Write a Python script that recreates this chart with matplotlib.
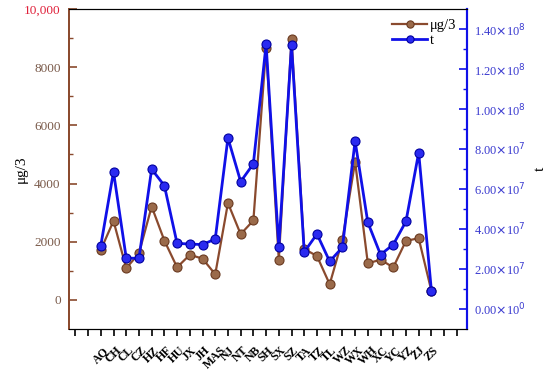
import matplotlib
matplotlib.use("Agg")
import math
import matplotlib.pyplot as plt
from matplotlib.ticker import FixedLocator, FuncFormatter

cities = ["AQ", "CH", "CL", "CZ", "HZ", "HF", "HU", "JX", "JH", "MAS", "NJ", "NT", "NB",
          "SH", "SX", "SZ", "TA", "TZ", "TL", "WZ", "WX", "WH", "XC", "YC", "YZ", "ZJ", "ZS"]
ug3 = [1720, 2715, 1090, 1600, 3210, 2040, 1120, 1550, 1420, 880, 3330, 2260, 2730,
       8650, 1380, 8970, 1750, 1510, 540, 2060, 4750, 1260, 1380, 1120, 2030, 2120, 310]
t_vals = [3.17e7, 6.86e7, 2.55e7, 2.53e7, 6.99e7, 6.17e7, 3.28e7, 3.25e7, 3.22e7, 3.50e7,
          8.55e7, 6.37e7, 7.26e7, 1.323e8, 3.10e7, 1.319e8, 2.85e7, 3.75e7, 2.38e7, 3.08e7,
          8.40e7, 4.33e7, 2.72e7, 3.22e7, 4.38e7, 7.82e7, 0.92e7]

plt.rcParams['font.family'] = ['Liberation Serif', 'DejaVu Serif']
brown = '#8a4a2e'
blue = '#1010e8'

fig = plt.figure(figsize=(5.5, 3.7), dpi=100)
ax = fig.add_axes([69/550, 1-329/370, (467-69)/550, (329-9)/370])
ax2 = ax.twinx()

x = list(range(len(cities)))
l1, = ax.plot(x, ug3, color=brown, lw=1.6, marker='o', ms=6.5, mfc='#9a6a4a', mec='#6a3a20', mew=0.8, label='μg/3', zorder=3)
l2, = ax2.plot(x, t_vals, color=blue, lw=2.0, marker='o', ms=6.5, mfc='#2a2af0', mec='#0000a0', mew=0.8, label='t', zorder=4)

ax.set_xlim(-2.5, 28.8)
ax.set_ylim(-1000, 10000)
ax2.set_ylim(-1e7, 1.5e8)

# x ticks
all_ticks = list(range(-2, 29))
ax.xaxis.set_major_locator(FixedLocator(all_ticks))
labels = [cities[tk] if 0 <= tk < len(cities) else '' for tk in all_ticks]
ax.set_xticklabels(labels, rotation=45, ha='center', va='top',
                   fontsize=8.5, fontweight='bold')
ax.tick_params(axis='x', direction='out', length=5, width=1.2, color='black', pad=6)

# left axis
ax.yaxis.set_major_locator(FixedLocator([0, 2000, 4000, 6000, 8000, 10000]))
ax.yaxis.set_minor_locator(FixedLocator([1000, 3000, 5000, 7000, 9000]))
ax.set_yticklabels(['0', '2000', '4000', '6000', '8000', '10,000'], fontsize=9.5, color='#7a5a4a')
ax.get_yticklabels()[-1].set_color('#e0203a')
ax.tick_params(axis='y', which='major', direction='in', length=6, width=1.2, color=brown, pad=6)
ax.tick_params(axis='y', which='minor', direction='in', length=3, width=1, color=brown)

# right axis
def sci(v, pos):
    if v == 0:
        return r'0.00$\times$10$^{0}$'
    e = int(math.floor(math.log10(abs(v)) + 1e-9))
    m = v / 10**e
    return r'%.2f$\times$10$^{%d}$' % (m, e)

ax2.yaxis.set_major_locator(FixedLocator([i*2e7 for i in range(8)]))
ax2.yaxis.set_minor_locator(FixedLocator([1e7 + i*2e7 for i in range(7)]))
ax2.yaxis.set_major_formatter(FuncFormatter(sci))
ax2.tick_params(axis='y', which='major', direction='in', length=6, width=1.2, color=blue,
                labelcolor='#3a3ad0', labelsize=9, pad=5)
ax2.tick_params(axis='y', which='minor', direction='in', length=3, width=1, color=blue)

fig.text(21/550, 1-169/370, 'μg/3', rotation=90, ha='center', va='center', fontsize=11)
fig.text(540/550, 1-169/370, 't', rotation=90, ha='center', va='center', fontsize=11)

for a in (ax, ax2):
    a.spines['left'].set_color(brown)
    a.spines['left'].set_linewidth(1.3)
    a.spines['right'].set_color(blue)
    a.spines['right'].set_linewidth(1.5)
    a.spines['top'].set_color('black')
    a.spines['bottom'].set_color('black')

leg = ax2.legend(handles=[l1, l2], loc='upper right', frameon=False, fontsize=10.5,
                 handlelength=2.4, borderaxespad=0.3, labelspacing=0.1, handletextpad=0.2,
                 markerscale=0.8)

fig.savefig('out.png', dpi=100)
